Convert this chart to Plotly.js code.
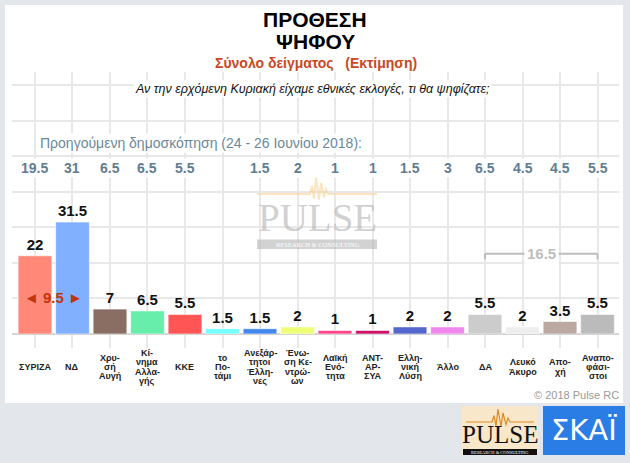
<!DOCTYPE html>
<html>
<head>
<meta charset="utf-8">
<script src="https://cdn.plot.ly/plotly-3.0.1.min.js"></script>
<style>html,body{margin:0;padding:0;background:#e3e7eb;}#chart{width:630px;height:463px;}</style>
</head>
<body>
<div id="chart"></div>
<script>
// ---- data ----
const categories = ['ΣΥΡΙΖΑ','ΝΔ','Χρυσή Αυγή','Κίνημα Αλλαγής','ΚΚΕ','το Ποτάμι','Ανεξάρτητοι Έλληνες','Ένωση Κεντρώων','Λαϊκή Ενότητα','ΑΝΤΑΡΣΥΑ','Ελληνική Λύση','Άλλο','ΔΑ','Λευκό Άκυρο','Αποχή','Αναποφάσιστοι'];
const tickLabels = ['ΣΥΡΙΖΑ','ΝΔ','Χρυ-<br>σή<br>Αυγή','Κί-<br>νημα<br>Αλλα-<br>γής','ΚΚΕ','το<br>Πο-<br>τάμι','Ανεξάρ-<br>τητοι<br>Έλλη-<br>νες','Ένω-<br>ση Κε-<br>ντρώ-<br>ων','Λαϊκή<br>Ενό-<br>τητα','ΑΝΤ-<br>ΑΡ-<br>ΣΥΑ','Ελλη-<br>νική<br>Λύση','Άλλο','ΔΑ','Λευκό<br>Άκυρο','Απο-<br>χή','Αναπο-<br>φάσι-<br>στοι'];
const current = [22, 31.5, 7, 6.5, 5.5, 1.5, 1.5, 2, 1, 1, 2, 2, 5.5, 2, 3.5, 5.5];
const previous = [19.5, 31, 6.5, 6.5, 5.5, null, 1.5, 2, 1, 1, 1.5, 3, 6.5, 4.5, 4.5, 5.5];
const barColors = ['#ff8878','#80b0ff','#8b6e63','#66eeaa','#ff5555','#77ffff','#4488ee','#eeff77','#ff4488','#cc1166','#5566cc','#ee88ee','#cccccc','#eeeeee','#bba8a0','#bbbbbb'];
const bracketGroup = ['ΔΑ','Λευκό Άκυρο','Αποχή','Αναποφάσιστοι'];
const titleLines = ['ΠΡΟΘΕΣΗ','ΨΗΦΟΥ'];
const subtitle = 'Σύνολο δείγματος\u00a0\u00a0\u00a0(Εκτίμηση)';
const question = 'Αν την ερχόμενη Κυριακή είχαμε εθνικές εκλογές, τι θα ψηφίζατε;';
const prevTitle = 'Προηγούμενη δημοσκόπηση (24 - 26 Ιουνίου 2018):';
const copyright = '© 2018 Pulse RC';

// ---- layout helpers (pixel -> paper) ----
const L = 12, R = 619, T = 72, B = 334;
const px = x => (x - L) / (R - L);
const py = y => (B - y) / (B - T);
const FONT = 'Liberation Sans, Arial, sans-serif';
const SERIF = 'Liberation Serif, Times New Roman, serif';

const gap = current[1] - current[0];
const groupIdx = bracketGroup.map(c => categories.indexOf(c));
const groupSum = groupIdx.reduce((s, i) => s + current[i], 0);

const trace = {
  type: 'bar',
  x: categories,
  y: current,
  marker: {color: barColors, line: {color: 'rgba(255,255,255,0.6)', width: 1}},
  text: current.map(String),
  textposition: 'outside',
  textfont: {family: FONT, size: 15, color: '#111', weight: 'bold'},
  cliponaxis: false,
  hoverinfo: 'none'
};

const annotations = [];
annotations.push({xref:'paper', yref:'paper', x:px(315), y:py(20), text:'<b>'+titleLines[0]+'</b>', showarrow:false, font:{family:FONT, size:21, color:'#000'}, xanchor:'center', yanchor:'middle'});
annotations.push({xref:'paper', yref:'paper', x:px(315), y:py(41.5), text:'<b>'+titleLines[1]+'</b>', showarrow:false, font:{family:FONT, size:21, color:'#000'}, xanchor:'center', yanchor:'middle'});
annotations.push({xref:'paper', yref:'paper', x:px(316), y:py(63), text:'<b>'+subtitle+'</b>', showarrow:false, font:{family:FONT, size:14, color:'#c9471f'}, xanchor:'center', yanchor:'middle'});
annotations.push({xref:'paper', yref:'paper', x:px(312), y:py(89), text:'<i>'+question+'</i>', showarrow:false, font:{family:FONT, size:12.5, color:'#111'}, xanchor:'center', yanchor:'middle', bgcolor:'#ffffff', borderpad:1});
annotations.push({xref:'paper', yref:'paper', x:px(38), y:py(143), text:prevTitle, showarrow:false, font:{family:FONT, size:14, color:'#6d8799'}, xanchor:'left', yanchor:'middle', bgcolor:'#ffffff', borderpad:1});
const LINE_H = 9.4;
categories.forEach((c, i) => {
  if (previous[i] !== null) {
    annotations.push({xref:'x', yref:'paper', x:c, y:py(168), text:'<b>'+previous[i]+'</b>', showarrow:false, font:{family:FONT, size:14, color:'#5f7d92'}, xanchor:'center', yanchor:'middle', bgcolor:'#ffffff', borderpad:1});
  }
  const lines = tickLabels[i].split('<br>');
  const top = 367 - (lines.length - 1) * LINE_H / 2;
  lines.forEach((ln, k) => {
    annotations.push({xref:'x', yref:'paper', x:c, y:py(top + k * LINE_H), text:'<b>'+ln+'</b>', showarrow:false, font:{family:FONT, size:9, color:'#222'}, xanchor:'center', yanchor:'middle', borderpad:0});
  });
});
// gap between first two parties
annotations.push({xref:'x', yref:'y', x:0.5, y:10.4, text:'<b>◄ '+gap+' ►</b>', showarrow:false, font:{family:FONT, size:15, color:'#c0360c'}, xanchor:'center', yanchor:'middle'});
// bracket sum
const gx0 = groupIdx[0], gx1 = groupIdx[groupIdx.length-1];
annotations.push({xref:'x', yref:'y', x:(gx0+gx1)/2, y:22.6, text:'<b>'+groupSum+'</b>', showarrow:false, font:{family:FONT, size:15, color:'#bdbdbd'}, xanchor:'center', yanchor:'middle', bgcolor:'#ffffff', borderpad:2});
// copyright
annotations.push({xref:'paper', yref:'paper', x:px(621), y:py(395), text:copyright, showarrow:false, font:{family:FONT, size:11, color:'#9a9a9a'}, xanchor:'right', yanchor:'middle'});
// watermark
annotations.push({xref:'paper', yref:'paper', x:px(317), y:py(218), text:'PULSE', showarrow:false, font:{family:SERIF, size:39, color:'rgba(170,170,170,0.55)'}, xanchor:'center', yanchor:'middle', borderpad:0});
annotations.push({xref:'paper', yref:'paper', x:px(317), y:py(245), text:'RESEARCH &amp; CONSULTING', showarrow:false, font:{family:SERIF, size:6.5, color:'#ffffff'}, xanchor:'center', yanchor:'middle', borderpad:0});
// logos
annotations.push({xref:'paper', yref:'paper', x:px(500), y:py(434), text:'PULSE', showarrow:false, font:{family:SERIF, size:25, color:'#111'}, xanchor:'center', yanchor:'middle', borderpad:0});
annotations.push({xref:'paper', yref:'paper', x:px(500), y:py(452), text:'RESEARCH &amp; CONSULTING', showarrow:false, font:{family:SERIF, size:4.5, color:'#ffffff'}, xanchor:'center', yanchor:'middle', borderpad:0});
annotations.push({xref:'paper', yref:'paper', x:px(584), y:py(430), text:'ΣΚΑΪ', showarrow:false, font:{family:'DejaVu Sans, sans-serif', size:29, color:'#ffffff', weight:'normal'}, xanchor:'center', yanchor:'middle'});

function pulsePath(x0, x1, yb, amp, cx) {
  const pts = [[x0,yb],[cx-8,yb],[cx-6,yb-amp*0.5],[cx-4,yb+amp*0.3],[cx-2,yb-amp],[cx+1,yb+amp*0.35],[cx+3,yb-amp*0.7],[cx+6,yb+amp*0.2],[cx+8,yb-amp*0.3],[cx+10,yb],[x1,yb]];
  return pts.map((p,i)=>(i?'L':'M')+px(p[0]).toFixed(5)+','+py(p[1]).toFixed(5)).join(' ');
}

const shapes = [
  // white panel
  {type:'rect', xref:'paper', yref:'paper', x0:px(5), x1:px(623), y0:py(5), y1:py(403), fillcolor:'#ffffff', line:{width:0}, layer:'below'},
  // watermark band and pulse
  {type:'rect', xref:'paper', yref:'paper', x0:px(257), x1:px(377), y0:py(239.5), y1:py(249), fillcolor:'rgba(180,180,180,0.6)', line:{width:0}, layer:'above'},
  {type:'path', xref:'paper', yref:'paper', path:pulsePath(257, 377, 194, 16, 318), line:{color:'rgba(250,205,140,0.55)', width:2}, layer:'above'},
  // bracket
  {type:'line', xref:'x', yref:'y', x0:gx0, x1:gx1, y0:22.6, y1:22.6, line:{color:'#bdbdbd', width:2}},
  {type:'line', xref:'x', yref:'y', x0:gx0, x1:gx0, y0:22.6, y1:21.0, line:{color:'#bdbdbd', width:2}},
  {type:'line', xref:'x', yref:'y', x0:gx1, x1:gx1, y0:22.6, y1:21.0, line:{color:'#bdbdbd', width:2}},
  // pulse logo
  {type:'rect', xref:'paper', yref:'paper', x0:px(462), x1:px(538), y0:py(406), y1:py(455), fillcolor:'#f8e8c9', line:{width:0}},
  {type:'rect', xref:'paper', yref:'paper', x0:px(463), x1:px(537), y0:py(449), y1:py(455), fillcolor:'#111111', line:{width:0}},
  {type:'path', xref:'paper', yref:'paper', path:pulsePath(466, 534, 422, 13, 500), line:{color:'#e08a25', width:1.2}},
  // skai logo
  {type:'rect', xref:'paper', yref:'paper', x0:px(543), x1:px(625), y0:py(406), y1:py(455), fillcolor:'#2b7de6', line:{width:0}}
];

const layout = {
  width: 630, height: 463,
  margin: {l: L, r: 630 - R, t: T, b: 463 - B, pad: 0},
  paper_bgcolor: '#e3e7eb',
  plot_bgcolor: 'rgba(0,0,0,0)',
  showlegend: false,
  bargap: 0.1,
  font: {family: FONT},
  xaxis: {type:'category', range:[-0.613, 15.573], showgrid:true, gridcolor:'#e8e8e8', gridwidth:2, ticks:'outside', ticklen:13, tickwidth:2, tickcolor:'#e8e8e8', showticklabels:false, showline:false, zeroline:false, fixedrange:true},
  yaxis: {range:[0, 73.7], tick0:0, dtick:10, showgrid:true, gridcolor:'#e8e8e8', gridwidth:2, zeroline:true, zerolinecolor:'#d4d4d4', zerolinewidth:2, showticklabels:false, ticks:'', showline:false, fixedrange:true},
  annotations: annotations,
  shapes: shapes
};

Plotly.newPlot('chart', [trace], layout, {displayModeBar:false, staticPlot:true});
</script>
</body>
</html>
